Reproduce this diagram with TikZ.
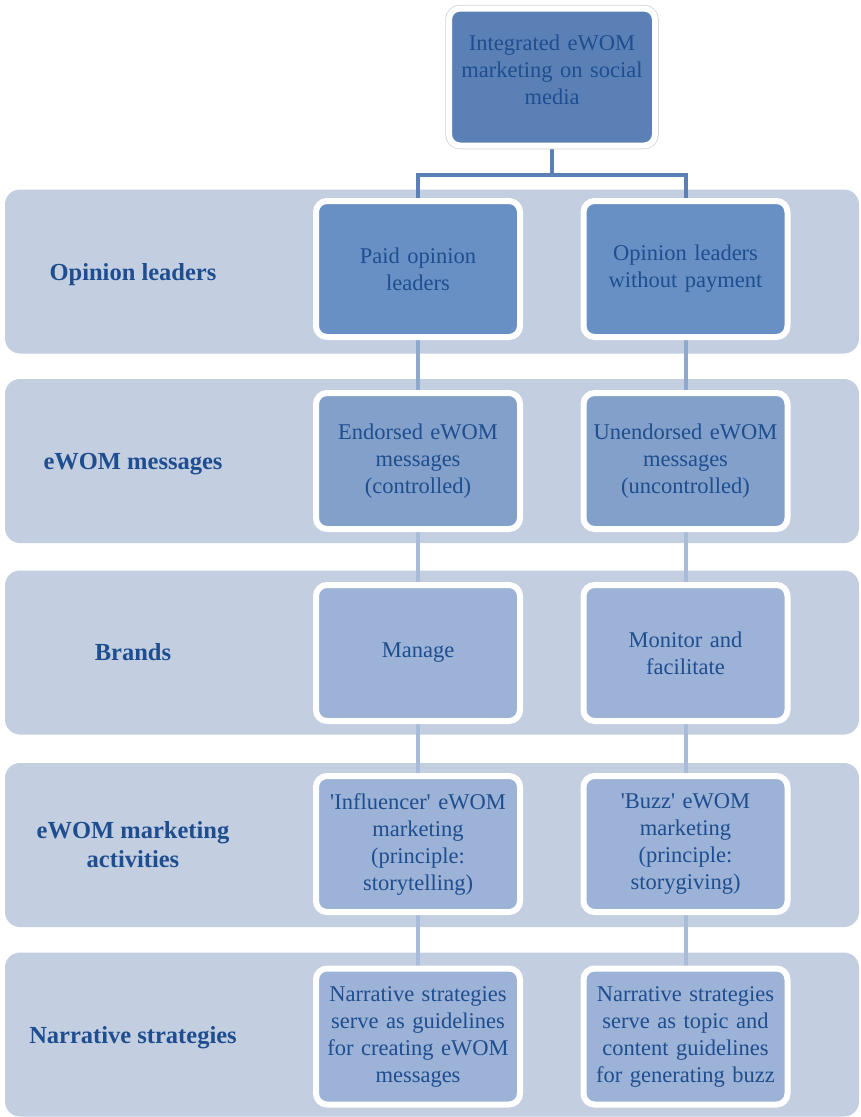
\documentclass[tikz,border=0pt]{standalone}
\usepackage{fontspec}
\setmainfont{Liberation Serif}
\usetikzlibrary{backgrounds}
\definecolor{bandc}{HTML}{C3CEE1}
\definecolor{txt}{HTML}{1E4E8F}
\definecolor{topfill}{HTML}{5B80B6}
\definecolor{rowa}{HTML}{6890C5}
\definecolor{rowb}{HTML}{82A0CA}
\definecolor{rowc}{HTML}{9CB2D6}
\definecolor{conntop}{HTML}{5B80B6}
\definecolor{conna}{HTML}{8FA8CE}
\definecolor{connb}{HTML}{A8BCDA}
\tikzset{
  box/.style={draw=white, line width=6pt, rounded corners=11pt,
    minimum width=204pt, minimum height=136pt, text width=196pt,
    align=center, inner sep=0pt, text=txt, font=\fontsize{22.5}{27}\selectfont},
  band/.style={fill=bandc, rounded corners=15pt, minimum width=854pt,
    minimum height=164pt, inner sep=0pt},
  lab/.style={text=txt, font=\bfseries\fontsize{24.5}{29}\selectfont, align=center, text depth=0pt},
  conn/.style={line width=4pt},
}
\begin{document}
\begin{tikzpicture}[x=1pt,y=-1pt]
\useasboundingbox (0,0) rectangle (860,1117);
% top box
\node[box, fill=topfill, minimum width=206pt, minimum height=137pt,
  preaction={draw=black!18, line width=7.5pt}] (top) at (552,77)
  {\raisebox{7pt}[\height][\depth]{\parbox{196pt}{\centering Integrated eWOM\\marketing on social\\media}}};
% boxes
\node[box, fill=rowa] (p1) at (418,269) {Paid opinion\\leaders};
\node[box, fill=rowa] (u1) at (685.5,269) {Opinion leaders\\without payment};
\node[box, fill=rowb] (p2) at (418,461) {Endorsed eWOM\\messages\\(controlled)};
\node[box, fill=rowb] (u2) at (685.5,461) {Unendorsed eWOM\\messages\\(uncontrolled)};
\node[box, fill=rowc] (p3) at (418,653) {Manage};
\node[box, fill=rowc] (u3) at (685.5,653) {Monitor and\\facilitate};
\node[box, fill=rowc] (p4) at (418,844) {\textquotesingle Influencer\textquotesingle{} eWOM\\marketing\\(principle:\\storytelling)};
\node[box, fill=rowc] (u4) at (685.5,844) {\textquotesingle Buzz\textquotesingle{} eWOM\\marketing\\(principle:\\storygiving)};
\node[box, fill=rowc] (p5) at (418,1036.5) {Narrative strategies\\serve as guidelines\\for creating eWOM\\messages};
\node[box, fill=rowc] (u5) at (685.5,1036.5) {Narrative strategies\\serve as topic and\\content guidelines\\for generating buzz};
% row labels
\node[lab] (l1) at (133,272) {Opinion leaders};
\node[lab] (l2) at (133,461) {eWOM messages};
\node[lab] (l3) at (133,652) {Brands};
\node[lab] (l4) at (133,844) {eWOM marketing\\activities};
\node[lab] (l5) at (133,1035) {Narrative strategies};
\begin{pgfonlayer}{background}
\node[band] (b1) at (432,271.5) {};
\node[band] (b2) at (432,461) {};
\node[band] (b3) at (432,652.5) {};
\node[band] (b4) at (432,845) {};
\node[band] (b5) at (432,1034.5) {};
\coordinate (j) at (552,175);
\draw[conn, draw=conntop] (top.south) -- (j);
\draw[conn, draw=conntop] (j) -| (p1.north);
\draw[conn, draw=conntop] (j) -| (u1.north);
\draw[conn, draw=conna] (p1) -- (p2);
\draw[conn, draw=conna] (u1) -- (u2);
\draw[conn, draw=connb] (p2) -- (p3);
\draw[conn, draw=connb] (u2) -- (u3);
\draw[conn, draw=connb] (p3) -- (p4);
\draw[conn, draw=connb] (u3) -- (u4);
\draw[conn, draw=connb] (p4) -- (p5);
\draw[conn, draw=connb] (u4) -- (u5);
\end{pgfonlayer}
\end{tikzpicture}
\end{document}
